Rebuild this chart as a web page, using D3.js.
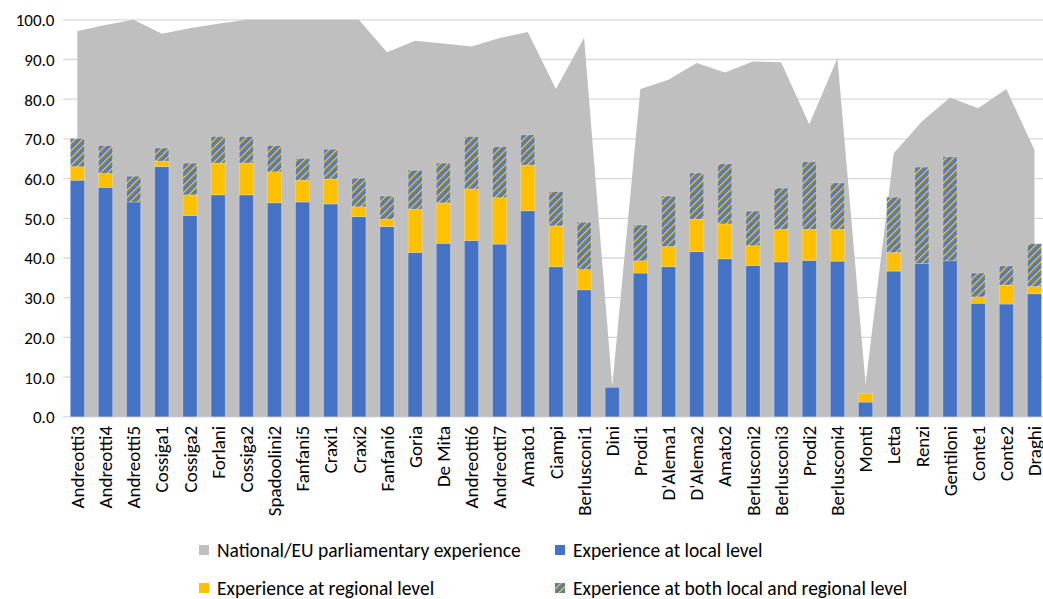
<!DOCTYPE html>
<html>
<head>
<meta charset="utf-8">
<script src="https://cdn.jsdelivr.net/npm/d3@7"></script>
<style>
  html, body { margin: 0; padding: 0; background: #ffffff; }
  svg { display: block; }
  text { font-family: Carlito, Calibri, Lato, "Liberation Sans", sans-serif; fill: #000; }
</style>
</head>
<body>
<svg id="chart" width="1043" height="599"></svg>
<script>
const categories = ["Andreotti3","Andreotti4","Andreotti5","Cossiga1","Cossiga2","Forlani","Cossiga2","Spadoolini2","Fanfani5","Craxi1","Craxi2","Fanfani6","Goria","De Mita","Andreotti6","Andreotti7","Amato1","Ciampi","Berlusconi1","Dini","Prodi1","D'Alema1","D'Alema2","Amato2","Berlusconi2","Berlusconi3","Prodi2","Berlusconi4","Monti","Letta","Renzi","Gentiloni","Conte1","Conte2","Draghi"];

const national = [97.2,98.7,100,96.5,97.9,99.0,100,100,100,100,100,91.8,94.7,94.0,93.3,95.4,96.9,82.6,95.5,7.7,82.6,84.9,89.1,86.7,89.5,89.3,73.7,90.3,8.2,66.4,74.4,80.4,77.7,82.6,67.2];

const localLevel = [59.6,57.8,54.1,63.0,50.7,55.9,55.9,53.9,54.1,53.6,50.4,47.9,41.4,43.7,44.4,43.5,51.9,37.8,32.0,7.4,36.2,37.8,41.6,39.8,38.1,39.0,39.4,39.2,3.7,36.7,38.6,39.3,28.6,28.4,31.0];

const regionalLevel = [3.4,3.5,0.0,1.4,5.2,8.0,8.0,7.8,5.5,6.3,2.5,1.9,10.9,10.2,13.0,11.7,11.5,10.3,5.1,0.0,3.1,5.1,8.2,8.8,5.0,8.2,7.8,8.0,2.2,4.7,0.0,0.0,1.6,4.8,1.8];

const bothLevels = [7.1,7.0,6.5,3.3,8.0,6.7,6.7,6.6,5.5,7.5,7.2,5.8,9.8,10.0,13.2,12.8,7.6,8.6,11.9,0.0,9.0,12.7,11.6,15.1,8.7,10.4,17.0,11.7,0.0,13.9,24.3,26.2,6.0,4.8,10.8];

const yTicks = [0,10,20,30,40,50,60,70,80,90,100];

const seriesNames = ["National/EU parliamentary experience","Experience at local level","Experience at regional level","Experience at both local and regional level"];

const C_GREY = "#bfbfbf", C_BLUE = "#4472c4", C_YELLOW = "#ffc000", C_GRID = "#d9d9d9";

const svg = d3.select("#chart");
const plotLeft = 63.3, step = 28.15;
const plotRight = plotLeft + step * categories.length;
const yTop = 19.8, yBottom = 416.8;

const idx = d3.range(categories.length);
const x = d3.scaleBand().domain(idx).range([plotLeft, plotRight]).paddingInner(0.5).paddingOuter(0.25);
const y = d3.scaleLinear().domain([0, 100]).range([yBottom, yTop]);

// hatch pattern
const defs = svg.append("defs");
const pat = defs.append("pattern").attr("id", "hatch")
  .attr("patternUnits", "userSpaceOnUse")
  .attr("width", 5.2).attr("height", 5.2)
  .attr("patternTransform", "rotate(45)");
pat.append("rect").attr("width", 5.2).attr("height", 5.2).attr("fill", C_BLUE);
pat.append("rect").attr("x", 0).attr("width", 1.5).attr("height", 5.2).attr("fill", C_YELLOW);
pat.append("rect").attr("x", 3.1).attr("width", 0.5).attr("height", 5.2).attr("fill", "#8eaadf").attr("opacity", 0.8);

// gridlines
svg.append("g").selectAll("line").data(yTicks).join("line")
  .attr("x1", plotLeft).attr("x2", plotRight)
  .attr("y1", d => y(d)).attr("y2", d => y(d))
  .attr("stroke", C_GRID).attr("stroke-width", 1.3);

// area
const area = d3.area()
  .x(i => x(i) + x.bandwidth() / 2)
  .y0(y(0))
  .y1(i => y(national[i]));
svg.append("path").datum(idx).attr("d", area).attr("fill", C_GREY);

// stacked bars
const stackData = idx.map(i => ({i, local: localLevel[i], regional: regionalLevel[i], both: bothLevels[i]}));
const stack = d3.stack().keys(["local", "regional", "both"]);
const layers = stack(stackData);
const fills = {local: C_BLUE, regional: C_YELLOW, both: "url(#hatch)"};
svg.append("g").selectAll("g").data(layers).join("g")
  .attr("fill", d => fills[d.key])
  .selectAll("rect").data(d => d.filter(s => s[1] - s[0] > 0)).join("rect")
  .attr("x", d => x(d.data.i))
  .attr("width", x.bandwidth())
  .attr("y", d => y(d[1]))
  .attr("height", d => y(d[0]) - y(d[1]))
  .attr("stroke", "#ffffff").attr("stroke-opacity", 0.3).attr("stroke-width", 0.8);

// y axis labels
const yAxis = d3.axisLeft(y).tickValues(yTicks).tickFormat(d3.format(".1f")).tickSize(0).tickPadding(0);
const gy = svg.append("g").attr("transform", `translate(${54.5},0)`).call(yAxis);
gy.select(".domain").remove();
gy.selectAll("text").attr("font-size", 17).attr("fill", "#000").attr("font-family", null).attr("dy", "0.35em");

// x axis labels
const xAxis = d3.axisBottom(x).tickFormat(i => categories[i]).tickSize(0).tickPadding(0);
const gx = svg.append("g").attr("transform", `translate(0,${yBottom})`).call(xAxis);
gx.select(".domain").remove();
gx.selectAll("text")
  .attr("font-size", 19).attr("fill", "#000").attr("font-family", null)
  .attr("text-anchor", "end")
  .attr("transform", "rotate(-90)")
  .attr("x", -9).attr("y", 0).attr("dy", "0.35em");

// legend
const legendItems = [
  {name: seriesNames[0], fill: C_GREY, lx: 199, ly: 550},
  {name: seriesNames[1], fill: C_BLUE, lx: 555, ly: 550},
  {name: seriesNames[2], fill: C_YELLOW, lx: 199, ly: 588},
  {name: seriesNames[3], fill: "url(#hatch)", lx: 555, ly: 588}
];
const lg = svg.append("g").selectAll("g").data(legendItems).join("g")
  .attr("transform", d => `translate(${d.lx},${d.ly})`);
lg.append("rect").attr("x", 0).attr("y", -5).attr("width", 10).attr("height", 10).attr("fill", d => d.fill);
lg.append("text").attr("x", 18).attr("y", 0).attr("dy", "0.35em").attr("font-size", 19.5).text(d => d.name);
</script>
</body>
</html>
